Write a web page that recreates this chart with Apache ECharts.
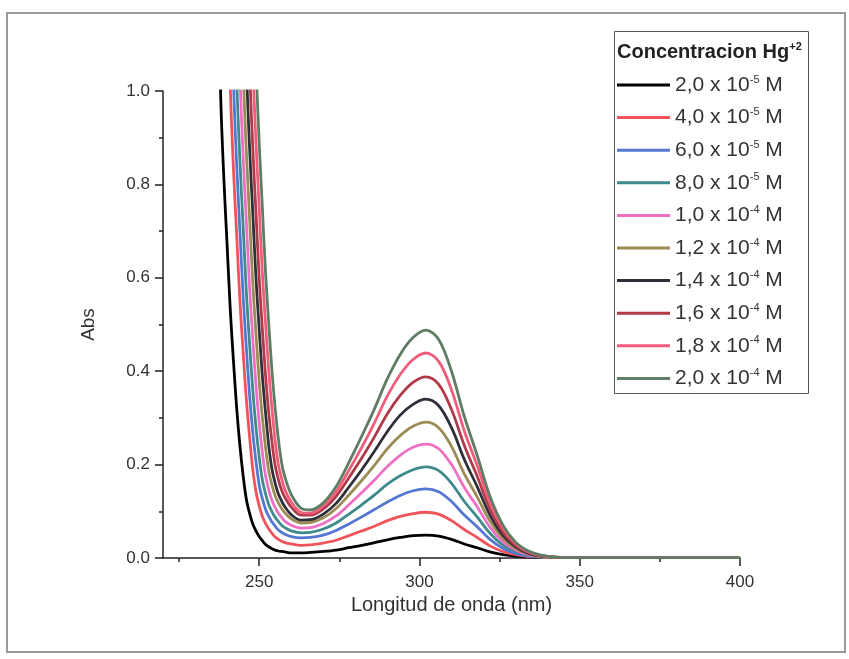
<!DOCTYPE html>
<html>
<head>
<meta charset="utf-8">
<script src="https://cdn.jsdelivr.net/npm/echarts@6/dist/echarts.min.js"></script>
<style>
html,body{margin:0;padding:0;background:#fff;}
#chart{width:849px;height:659px;}
</style>
</head>
<body>
<div id="chart"></div>
<script>
// Wavelength grid (nm)
const wl = [237,238,239,240,241,242,243,244,245,246,247,248,249,250,251,252,253,254,255,256,257,258,260,263,266,270,274,278,282,286,290,294,298,302,306,310,314,318,322,326,330,334,338,342,346,350,360,375,400];

// Absorbance for each Hg+2 concentration (null = far above the plotted range)
const abs_2_0e5 = [1.36,0.99,0.81,0.67,0.53,0.42,0.32,0.24,0.176,0.126,0.096,0.073,0.058,0.046,0.037,0.029,0.024,0.020,0.017,0.015,0.014,0.013,0.011,0.011,0.012,0.014,0.017,0.022,0.027,0.033,0.039,0.044,0.048,0.049,0.047,0.040,0.030,0.022,0.013,0.007,0.004,0.002,0.001,0.001,0.001,0.001,0.001,0.001,0.001];
const abs_4_0e5 = [null,null,null,1.38,1.01,0.83,0.69,0.55,0.44,0.34,0.26,0.19,0.142,0.112,0.089,0.074,0.062,0.053,0.045,0.040,0.036,0.033,0.030,0.027,0.028,0.032,0.038,0.048,0.058,0.068,0.080,0.089,0.095,0.098,0.094,0.080,0.061,0.044,0.026,0.014,0.007,0.003,0.002,0.001,0.001,0.001,0.001,0.001,0.001];
const abs_6_0e5 = [null,null,null,null,1.39,1.02,0.84,0.70,0.56,0.45,0.35,0.27,0.207,0.157,0.127,0.104,0.089,0.077,0.068,0.060,0.055,0.051,0.046,0.043,0.044,0.049,0.059,0.073,0.088,0.104,0.120,0.134,0.144,0.148,0.142,0.121,0.092,0.067,0.040,0.021,0.010,0.004,0.002,0.001,0.001,0.001,0.001,0.001,0.001];
const abs_8_0e5 = [null,null,null,null,null,1.40,1.03,0.85,0.71,0.57,0.46,0.36,0.28,0.217,0.167,0.137,0.114,0.099,0.087,0.078,0.070,0.065,0.058,0.054,0.055,0.062,0.075,0.094,0.114,0.135,0.158,0.176,0.189,0.195,0.187,0.160,0.121,0.088,0.053,0.028,0.014,0.006,0.002,0.001,0.001,0.001,0.001,0.001,0.001];
const abs_1_0e4 = [null,null,null,null,null,null,1.41,1.04,0.86,0.72,0.58,0.47,0.37,0.29,0.226,0.176,0.146,0.123,0.108,0.096,0.087,0.079,0.070,0.064,0.065,0.074,0.090,0.114,0.140,0.167,0.196,0.220,0.237,0.244,0.234,0.200,0.151,0.110,0.066,0.035,0.017,0.007,0.003,0.001,0.001,0.001,0.001,0.001,0.001];
const abs_1_2e4 = [null,null,null,null,null,null,null,1.42,1.05,0.87,0.73,0.59,0.48,0.38,0.30,0.236,0.186,0.156,0.133,0.118,0.106,0.097,0.084,0.075,0.076,0.086,0.106,0.135,0.166,0.199,0.234,0.262,0.282,0.291,0.279,0.239,0.180,0.131,0.079,0.042,0.020,0.009,0.003,0.001,0.001,0.001,0.001,0.001,0.001];
const abs_1_4e4 = [null,null,null,null,null,null,null,null,1.43,1.06,0.88,0.74,0.60,0.49,0.39,0.31,0.240,0.190,0.160,0.137,0.122,0.110,0.093,0.081,0.082,0.094,0.117,0.152,0.189,0.229,0.271,0.306,0.329,0.340,0.326,0.279,0.211,0.153,0.092,0.049,0.024,0.010,0.004,0.002,0.001,0.001,0.001,0.001,0.001];
const abs_1_6e4 = [null,null,null,null,null,null,null,null,null,1.43,1.06,0.88,0.74,0.60,0.49,0.39,0.31,0.248,0.198,0.168,0.145,0.130,0.109,0.092,0.092,0.105,0.132,0.172,0.214,0.260,0.309,0.348,0.376,0.388,0.372,0.318,0.241,0.175,0.105,0.056,0.027,0.012,0.005,0.002,0.001,0.001,0.001,0.001,0.001];
const abs_1_8e4 = [null,null,null,null,null,null,null,null,null,null,1.44,1.07,0.89,0.75,0.61,0.50,0.40,0.32,0.250,0.200,0.170,0.147,0.120,0.098,0.096,0.111,0.142,0.188,0.237,0.290,0.347,0.393,0.425,0.439,0.421,0.360,0.272,0.198,0.119,0.064,0.031,0.013,0.005,0.002,0.001,0.001,0.001,0.001,0.001];
const abs_2_0e4 = [null,null,null,null,null,null,null,null,null,null,null,1.44,1.07,0.89,0.75,0.61,0.50,0.40,0.32,0.254,0.204,0.174,0.136,0.107,0.103,0.118,0.153,0.205,0.261,0.320,0.384,0.436,0.472,0.488,0.468,0.400,0.303,0.220,0.132,0.071,0.034,0.015,0.006,0.002,0.001,0.001,0.001,0.001,0.001];

const mantissas = ['2,0','4,0','6,0','8,0','1,0','1,2','1,4','1,6','1,8','2,0'];
const exponents = ['-5','-5','-5','-5','-4','-4','-4','-4','-4','-4'];
const xMajorTicks = [250,300,350,400];
const xMinorTicks = [225,275,325,375];

const allAbs = [abs_2_0e5,abs_4_0e5,abs_6_0e5,abs_8_0e5,abs_1_0e4,abs_1_2e4,abs_1_4e4,abs_1_6e4,abs_1_8e4,abs_2_0e4];
const colors = ['#000000','#F0545A','#5577D4','#3F8A8C','#EE6FC4','#9B8B55','#2F2F3A','#B03A48','#F25C7C','#5E7D62'];
const names = mantissas.map((m,i)=> m + ' x 10^' + exponents[i] + ' M');

const FONT = "'Liberation Sans', Arial, Helvetica, sans-serif";

const series = allAbs.map((arr,i)=>({
  type:'line',
  name: names[i],
  data: wl.map((x,j)=>[x,arr[j]]).filter(p=>p[1]!==null),
  showSymbol:false,
  smooth:0.35,
  clip:true,
  lineStyle:{color:colors[i], width:2.8},
  itemStyle:{color:colors[i]},
  xAxisIndex:0,
  yAxisIndex:0
}));

const chart = echarts.init(document.getElementById('chart'), null, {renderer:'canvas'});
const axisColor = '#222';
chart.setOption({
  animation:false,
  backgroundColor:'#ffffff',
  color: colors,
  grid:{left:163, right:109, top:91, bottom:101, containLabel:false},
  xAxis:[{
    type:'value', min:220, max:400, position:'bottom',
    axisLine:{show:true, onZero:false, lineStyle:{color:axisColor, width:1.5}},
    axisTick:{show:true, customValues:xMajorTicks, length:8, lineStyle:{color:axisColor, width:1.5}},
    axisLabel:{customValues:xMajorTicks, fontSize:17, color:'#333', margin:16, fontFamily:FONT},
    splitLine:{show:false},
    name:'Longitud de onda (nm)', nameLocation:'middle', nameGap:35,
    nameTextStyle:{fontSize:20, color:'#333', fontFamily:FONT}
  },{
    type:'value', min:220, max:400, position:'bottom',
    axisLine:{show:false},
    axisTick:{show:true, customValues:xMinorTicks, length:4, lineStyle:{color:axisColor, width:1.5}},
    axisLabel:{show:false},
    splitLine:{show:false}
  }],
  yAxis:{
    type:'value', min:0, max:1, interval:0.2,
    axisLine:{show:true, onZero:false, lineStyle:{color:axisColor, width:1.5}},
    axisTick:{show:true, length:8, lineStyle:{color:axisColor, width:1.5}},
    minorTick:{show:true, splitNumber:2, length:4, lineStyle:{color:axisColor, width:1.5}},
    axisLabel:{formatter:v=>v.toFixed(1), fontSize:17, color:'#333', margin:13, fontFamily:FONT},
    splitLine:{show:false},
    minorSplitLine:{show:false},
    name:'Abs', nameLocation:'middle', nameGap:65, nameRotate:90,
    nameTextStyle:{fontSize:19, color:'#333', fontFamily:FONT}
  },
  legend:{
    orient:'vertical', left:617, top:74, padding:0,
    itemWidth:53, itemHeight:3, itemGap:11.1, icon:'rect',
    data: names,
    formatter: function(name){
      const i = names.indexOf(name);
      return '{t|' + mantissas[i] + ' x 10}{s|' + exponents[i] + '}{t| M}';
    },
    textStyle:{
      color:'#333',
      rich:{
        t:{fontSize:21, fontFamily:FONT, color:'#333', lineHeight:22},
        s:{fontSize:11, fontFamily:FONT, color:'#333', lineHeight:12, verticalAlign:'top'}
      }
    }
  },
  graphic:[
    {type:'rect', shape:{x:7, y:13, width:838, height:639}, style:{fill:'none', stroke:'#9a9a9a', lineWidth:2}, silent:true},
    {type:'rect', shape:{x:614.5, y:31.5, width:194, height:362}, style:{fill:'none', stroke:'#555', lineWidth:1}, silent:true},
    {type:'text', x:617, y:52, silent:true,
     style:{text:'{b|Concentracion Hg}{bs|+2}', verticalAlign:'middle',
       rich:{
         b:{fontSize:20, fontWeight:'bold', fontFamily:FONT, fill:'#222', lineHeight:22},
         bs:{fontSize:11, fontWeight:'bold', fontFamily:FONT, fill:'#222', lineHeight:12, verticalAlign:'top'}
       }}}
  ],
  series: series
});
</script>
</body>
</html>
